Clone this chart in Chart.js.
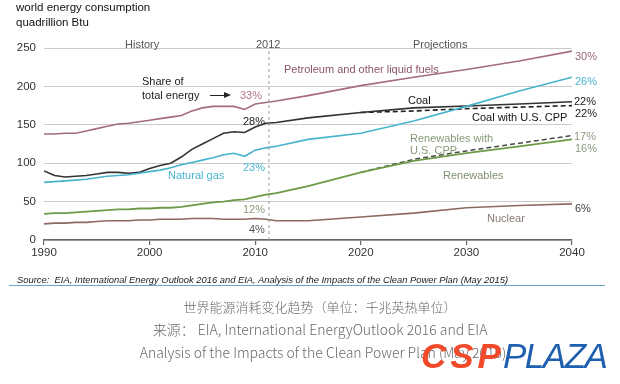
<!DOCTYPE html>
<html>
<head>
<meta charset="utf-8">
<script src="https://cdn.jsdelivr.net/npm/chart.js@4/dist/chart.umd.min.js"></script>
<style>
  html, body { margin:0; padding:0; background:#fff; }
  #wrap { position:relative; width:620px; height:384px; overflow:hidden; background:#fff; }
  #c { position:absolute; left:0; top:0; }
  .t { position:absolute; white-space:nowrap; line-height:1; transform:translateY(-50%);
       font-family:"Liberation Sans", Arial, sans-serif; font-size:11px; color:#333; }
  .cap { position:absolute; white-space:nowrap; line-height:1; transform:translate(-50%,-50%);
         font-family:"Noto Sans CJK SC", "Noto Sans", sans-serif; font-size:13px; color:#6a6a6a; font-weight:300; }
</style>
</head>
<body>
<div id="wrap">
  <canvas id="c" width="620" height="384"></canvas>

  <div class="t" style="left:16px;top:8px;font-size:11.5px;color:#111;">world energy consumption</div>
  <div class="t" style="left:16px;top:23px;font-size:11.5px;color:#111;">quadrillion Btu</div>

  <div class="t" style="left:125px;top:44px;font-size:11px;color:#555;">History</div>
  <div class="t" style="left:256px;top:44px;font-size:11px;color:#555;">2012</div>
  <div class="t" style="left:413px;top:44px;font-size:11px;color:#555;">Projections</div>

  <div class="t" style="left:284px;top:69px;color:#8b5468;">Petroleum and other liquid fuels</div>
  <div class="t" style="left:142px;top:81px;color:#222;">Share of</div>
  <div class="t" style="left:142px;top:95px;color:#222;">total energy</div>
  <div style="position:absolute;left:210px;top:95px;width:15px;height:0;border-top:1.3px solid #222;"></div>
  <div style="position:absolute;left:224px;top:92px;width:0;height:0;border-top:3.5px solid transparent;border-bottom:3.5px solid transparent;border-left:7px solid #222;"></div>

  <div class="t" style="left:240px;top:95px;color:#b07585;">33%</div>
  <div class="t" style="left:243px;top:121px;color:#222;">28%</div>
  <div class="t" style="left:243px;top:167px;color:#4ab3cc;">23%</div>
  <div class="t" style="left:243px;top:209px;color:#8a9a80;">12%</div>
  <div class="t" style="left:249px;top:229px;color:#555;">4%</div>

  <div class="t" style="left:168px;top:175px;color:#4ab3cc;">Natural gas</div>
  <div class="t" style="left:408px;top:100px;color:#111;">Coal</div>
  <div class="t" style="left:472px;top:117px;color:#111;">Coal with U.S. CPP</div>
  <div class="t" style="left:410px;top:138px;color:#859a78;">Renewables with</div>
  <div class="t" style="left:410px;top:150px;color:#859a78;">U.S. CPP</div>
  <div class="t" style="left:443px;top:175px;color:#7e8f72;">Renewables</div>
  <div class="t" style="left:487px;top:218px;color:#8a7a72;">Nuclear</div>

  <div class="t" style="left:575px;top:56px;color:#9a6a78;">30%</div>
  <div class="t" style="left:575px;top:81px;color:#4ab3cc;">26%</div>
  <div class="t" style="left:574px;top:101px;color:#222;">22%</div>
  <div class="t" style="left:575px;top:113px;color:#222;">22%</div>
  <div class="t" style="left:574px;top:136px;color:#8a9a80;">17%</div>
  <div class="t" style="left:575px;top:148px;color:#8a9a80;">16%</div>
  <div class="t" style="left:575px;top:208px;color:#444;">6%</div>

  <div class="t" style="left:17px;top:280px;font-size:9.4px;font-style:italic;color:#222;">Source:&nbsp; EIA, International Energy Outlook 2016 and EIA, Analysis of the Impacts of the Clean Power Plan (May 2015)</div>
  <div style="position:absolute;left:9px;top:285px;width:596px;height:0;border-top:1.3px solid #6aa6c8;"></div>

  <div class="cap" style="left:320px;top:306px;">世界能源消耗变化趋势（单位：千兆英热单位）</div>
  <div class="cap" style="left:320px;top:329px;font-size:14px;">来源： EIA, International EnergyOutlook 2016 and EIA</div>
  <div class="cap" style="left:323px;top:352px;font-size:14px;">Analysis of the Impacts of the Clean Power Plan (May 2015)</div>

  <div class="t" style="left:421px;top:355px;font-size:35px;font-weight:bold;font-style:italic;color:#f04a2a;letter-spacing:4px;">CSP</div>
  <div class="t" style="left:503px;top:355px;font-size:35px;font-style:italic;color:#1f5fb0;letter-spacing:-1.5px;">PLAZA</div>
</div>

<script>
// ---- data (quadrillion Btu) ----
const years = [1990,1991,1992,1993,1994,1995,1996,1997,1998,1999,2000,2001,2002,2003,2004,2005,2006,2007,2008,2009,2010,2011,2012,2015,2020,2025,2030,2035,2040];
const petroleum  = [138,138,139,139,142,145,148,151,152,154,156,158,160,162,168,172,174,174,174,170,177,179,181,188,201,212,222,233,246];
const coal       = [90,84,82,83,84,86,88,88,87,88,93,97,100,108,118,125,132,139,141,140,147,152,153,159,166,172,174.5,177,180];
const naturalGas = [75,76,77,78,79,81,83,84,85,87,89,91,94,98,101,104,107,111,113,109,117,120,122,131,139,155,174,194,212];
const renewables = [34,35,35,36,37,38,39,40,40,41,41,42,42,43,45,47,49,50,52,53,56,59,61,70,88,103,113,122,131];
const nuclear    = [21,22,22,23,23,24,25,25,25,26,26,27,27,27,28,28,28,27,27,27,28,27,25,25,30,35,42,45,47];
const cppYears   = [2020,2025,2030,2035,2040];
const coalCPP    = [166,168,171,173,175];
const renewCPP   = [88,105,116,126,136];
const divider    = 2011.3;
const yTicks     = [0,50,100,150,200,250];
const xTicks     = [1990,2000,2010,2020,2030,2040];

const pts = (xs, ys) => xs.map((x,i) => ({x, y: ys[i]}));

const ds = (label, xs, ys, color, width, dash) => ({
  label, data: pts(xs, ys), borderColor: color, borderWidth: width,
  borderDash: dash || [], pointRadius: 0, fill: false, tension: 0
});

new Chart(document.getElementById('c'), {
  type: 'line',
  data: {
    datasets: [
      ds('divider', [divider, divider], [0, 250], '#9a9a9a', 1, [3,3]),
      ds('Nuclear', years, nuclear, '#8c6a62', 1.6),
      ds('Renewables', years, renewables, '#6e9a48', 1.8),
      ds('Renewables with U.S. CPP', cppYears, renewCPP, '#4a4a4a', 1.5, [5,3]),
      ds('Natural gas', years, naturalGas, '#45b4cd', 1.6),
      ds('Coal', years, coal, '#333333', 1.6),
      ds('Coal with U.S. CPP', cppYears, coalCPP, '#222222', 1.6, [5,3]),
      ds('Petroleum and other liquid fuels', years, petroleum, '#a46c7e', 1.6)
    ]
  },
  options: {
    responsive: false,
    devicePixelRatio: 1,
    animation: false,
    layout: { padding: { left: 0, top: 48, right: 48, bottom: 120 } },
    plugins: { legend: { display: false }, tooltip: { enabled: false } },
    scales: {
      x: {
        type: 'linear', min: 1990, max: 2040,
        afterBuildTicks: s => { s.ticks = xTicks.map(v => ({value: v})); },
        afterFit: s => { s.height = 24; },
        grid: { drawOnChartArea: false, drawTicks: true, tickLength: 5, color: '#666', lineWidth: 1.2 },
        border: { display: true, color: '#666', width: 1.5 },
        ticks: { color: '#333', padding: 1, font: { family: 'Liberation Sans', size: 11.5 }, maxRotation: 0,
                 callback: v => String(v) }
      },
      y: {
        min: 0, max: 250,
        afterBuildTicks: s => { s.ticks = yTicks.map(v => ({value: v})); },
        afterFit: s => { s.width = 44; },
        grid: { drawTicks: false, color: '#cacaca', lineWidth: 1 },
        border: { display: false },
        ticks: { color: '#333', padding: 8, font: { family: 'Liberation Sans', size: 11.5 },
                 callback: v => String(v) }
      }
    }
  }
});
</script>
</body>
</html>
